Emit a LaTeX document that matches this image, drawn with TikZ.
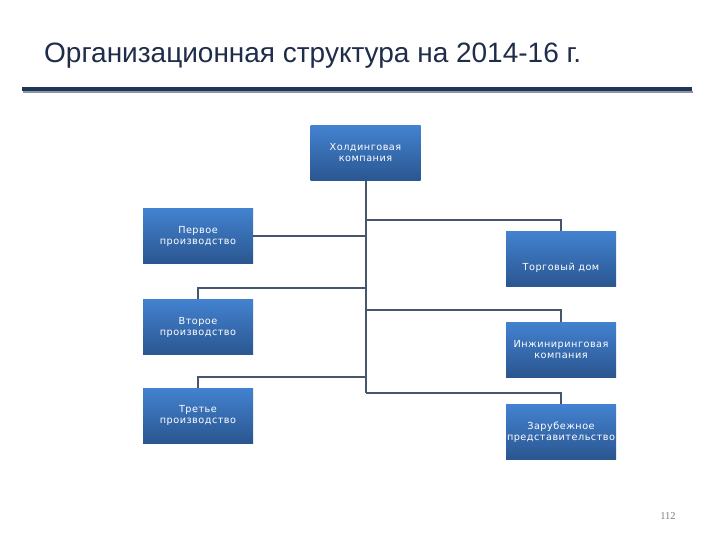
\documentclass[tikz,border=0pt]{standalone}
\usepackage{fontspec}
\setmainfont{Liberation Sans}
\newfontfamily\boxfont[LetterSpace=5]{DejaVu Sans}
\newfontfamily\numfont{Liberation Serif}
\definecolor{titlecol}{HTML}{1F2D4A}
\definecolor{rulecol}{HTML}{1F3657}
\definecolor{shadowcol}{HTML}{8C95A3}
\definecolor{boxtop}{HTML}{4382D0}
\definecolor{boxbot}{HTML}{2A5690}
\definecolor{conncol}{HTML}{46566C}
\begin{document}
\begin{tikzpicture}[x=1pt,y=-1pt,
  boxtext/.style={text=white, font=\boxfont\fontsize{9.7}{11}\selectfont, align=center},
  unitbox/.style={minimum width=110pt, minimum height=55pt, inner sep=1pt,
    top color=boxtop, bottom color=boxbot, draw=none, boxtext, text width=108pt},
  conn/.style={draw=conncol, line width=2pt}]
\useasboundingbox (0,0) rectangle (720,540);
\fill[white] (0,0) rectangle (720,540);
% title
\node[anchor=base west, inner sep=0pt, font=\fontsize{28}{32}\selectfont, text=titlecol] (title) at (44,63) {Организационная структура на 2014-16 г.};
% rule
\draw[shadowcol, line width=2pt] (23,92.5) -- (693,92.5);
\draw[rulecol, line width=4.2pt] (22,89.4) -- (692,89.4);
% boxes
\node[unitbox] (top) at (365.5,153) {Холдинговая\\компания};
\node[unitbox] (p1) at (198,236) {Первое\\производство};
\node[unitbox] (p2) at (198,327) {Второе\\производство};
\node[unitbox] (p3) at (198,415.5) {Третье\\производство};
\node[unitbox, label={[boxtext, yshift=-8.5pt]center:Торговый дом}] (t) at (561,259) {};
\node[unitbox] (inz) at (561,349.5) {Инжиниринговая\\компания};
\node[unitbox] (zar) at (561,432) {Зарубежное\\представительство};
% connectors
\coordinate (j1) at (365.5,220);
\coordinate (j2) at (365.5,287.5);
\coordinate (j3) at (365.5,309.5);
\coordinate (j4) at (365.5,377);
\coordinate (j5) at (365.5,393);
\draw[conn] (top.south) -- (j5);
\draw[conn] (j1) -| (t.north);
\draw[conn] (p1.east) -- (p1.east -| top.south);
\draw[conn] (j2) -| (p2.north);
\draw[conn] (j3) -| (inz.north);
\draw[conn] (j4) -| (p3.north);
\draw[conn] (j5) -| (zar.north);
% page number
\node[anchor=base, inner sep=0pt, font=\numfont\fontsize{10.5}{12}\selectfont, text=gray] (pg) at (668,519) {112};
\end{tikzpicture}
\end{document}
